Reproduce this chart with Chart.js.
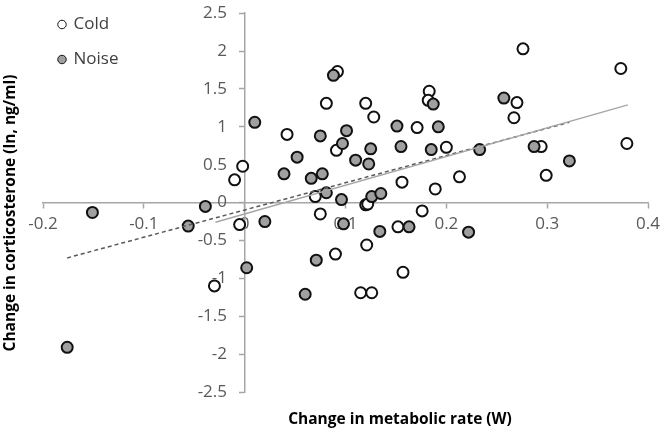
<!DOCTYPE html>
<html lang="en">
<head>
  <meta charset="UTF-8" />
  <title>Metabolic rate vs corticosterone</title>
  <script src="https://cdn.jsdelivr.net/npm/chart.js"></script>
  <style>
    html, body { margin: 0; padding: 0; background: #fff; }
    #wrap { width: 666px; height: 431px; }
  </style>
</head>
<body>
<div id="wrap"><canvas id="chart"></canvas></div>
<script>
  // values
  const coldX = [-0.010, -0.002, -0.005, -0.030, 0.042, 0.070, 0.075, 0.120, 0.122, 0.156, 0.189, 0.176,
                 0.152, 0.121, 0.090, 0.157, 0.115, 0.126, 0.081, 0.092, 0.091, 0.120, 0.128, 0.171,
                 0.183, 0.182, 0.200, 0.276, 0.373, 0.270, 0.267, 0.294, 0.379, 0.299, 0.213];
  const coldY = [0.30, 0.48, -0.29, -1.10, 0.90, 0.08, -0.15, -0.03, -0.02, 0.27, 0.18, -0.11,
                 -0.32, -0.56, -0.68, -0.92, -1.19, -1.19, 1.31, 1.73, 0.69, 1.31, 1.13, 0.99,
                 1.47, 1.35, 0.73, 2.03, 1.77, 1.32, 1.12, 0.74, 0.78, 0.36, 0.34];

  const noiseX = [0.081, 0.096, 0.098, 0.126, 0.135, 0.163, 0.134, 0.071, 0.060, 0.002, 0.020, -0.151,
                  -0.039, -0.056, -0.176, 0.010, 0.039, 0.052, 0.066, 0.077, 0.075, 0.088, 0.097, 0.101,
                  0.110, 0.123, 0.125, 0.151, 0.155, 0.187, 0.192, 0.185, 0.257, 0.233, 0.287, 0.322, 0.222];
  const noiseY = [0.13, 0.04, -0.28, 0.08, 0.12, -0.32, -0.38, -0.76, -1.21, -0.86, -0.25, -0.13,
                  -0.05, -0.31, -1.91, 1.06, 0.38, 0.60, 0.32, 0.38, 0.88, 1.68, 0.78, 0.95,
                  0.56, 0.51, 0.71, 1.01, 0.74, 1.30, 1.00, 0.70, 1.38, 0.70, 0.74, 0.55, -0.39];

  // trendline end points
  const coldFitX = [-0.029, 0.380];
  const coldFitY = [-0.26, 1.29];
  const noiseFitX = [-0.176, 0.322];
  const noiseFitY = [-0.73, 1.06];

  const xTicks = [-0.2, -0.1, 0, 0.1, 0.2, 0.3, 0.4];
  const yTicks = [2.5, 2, 1.5, 1, 0.5, 0, -0.5, -1, -1.5, -2, -2.5];

  const xTitle = "Change in metabolic rate (W)";
  const yTitle = "Change in corticosterone (ln, ng/ml)";

  const pts = (xs, ys) => xs.map((x, i) => ({ x: x, y: ys[i] }));
  const FONT = "'Open Sans', sans-serif";

  const axisTitles = {
    id: "axisTitles",
    afterDraw(chart) {
      const ctx = chart.ctx;
      ctx.save();
      ctx.fillStyle = "#000";
      ctx.font = "bold 15.5px " + FONT;
      ctx.textAlign = "center";
      ctx.textBaseline = "middle";
      ctx.fillText(xTitle, 400, 420);
      ctx.translate(11, 213);
      ctx.rotate(-Math.PI / 2);
      ctx.fillText(yTitle, 0, 0);
      ctx.restore();
    }
  };

  // nudge the in-plot legend to where it sits in the figure
  const legendShift = {
    id: "legendShift",
    afterLayout(chart) {
      chart.legend.left -= 2;
      chart.legend.top -= 2;
    }
  };

  new Chart(document.getElementById("chart"), {
    type: "scatter",
    data: {
      datasets: [
        {
          label: "cold fit",
          data: pts(coldFitX, coldFitY),
          showLine: true,
          borderColor: "#a6a6a6",
          borderWidth: 1.5,
          pointRadius: 0,
          order: 0
        },
        {
          label: "noise fit",
          data: pts(noiseFitX, noiseFitY),
          showLine: true,
          borderColor: "#595959",
          borderWidth: 1.5,
          borderDash: [4, 3],
          pointRadius: 0,
          order: 0
        },
        {
          label: "Cold",
          data: pts(coldX, coldY),
          backgroundColor: "#ffffff",
          borderColor: "#111111",
          borderWidth: 2,
          pointRadius: 5.5,
          order: 2
        },
        {
          label: "Noise",
          data: pts(noiseX, noiseY),
          backgroundColor: "#a0a0a0",
          borderColor: "#111111",
          borderWidth: 2,
          pointRadius: 5.5,
          order: 1
        }
      ]
    },
    options: {
      responsive: true,
      maintainAspectRatio: false,
      animation: false,
      layout: { padding: { left: 43, right: 14, top: 7, bottom: 39 } },
      scales: {
        x: {
          min: -0.2,
          max: 0.4,
          position: { y: 0 },
          afterFit: s => { s.height = 0; },
          afterBuildTicks: s => { s.ticks = xTicks.map(v => ({ value: v })); },
          border: { display: true, color: "#a6a6a6", width: 1.5 },
          grid: { display: true, drawOnChartArea: false, drawTicks: true, tickLength: 5, tickColor: "#a6a6a6", tickWidth: 1.5 },
          ticks: {
            color: "#595959",
            font: { family: FONT, size: 17 },
            padding: 6,
            maxRotation: 0,
            autoSkip: false,
            callback: v => String(v)
          }
        },
        y: {
          min: -2.5,
          max: 2.5,
          position: { x: 0 },
          afterFit: s => { s.width = 0; },
          afterBuildTicks: s => { s.ticks = yTicks.map(v => ({ value: v })); },
          border: { display: true, color: "#a6a6a6", width: 1.5 },
          grid: { display: true, drawOnChartArea: false, drawTicks: true, tickLength: 5, tickColor: "#a6a6a6", tickWidth: 1.5 },
          ticks: {
            color: "#595959",
            font: { family: FONT, size: 17 },
            autoSkip: false,
            callback: v => String(v) + "    "
          }
        }
      },
      plugins: {
        legend: {
          position: "chartArea",
          align: "start",
          labels: {
            usePointStyle: true,
            pointStyle: "circle",
            boxWidth: 6,
            boxHeight: 6,
            padding: 18,
            color: "#404040",
            font: { family: FONT, size: 17 },
            filter: item => item.text === "Cold" || item.text === "Noise",
            sort: (a, b) => a.datasetIndex - b.datasetIndex,
            generateLabels: chart => {
              const items = Chart.defaults.plugins.legend.labels.generateLabels(chart);
              items.forEach(it => { it.lineWidth = 1; });
              return items;
            }
          }
        },
        tooltip: { enabled: false }
      }
    },
    plugins: [axisTitles, legendShift]
  });
</script>
</body>
</html>
